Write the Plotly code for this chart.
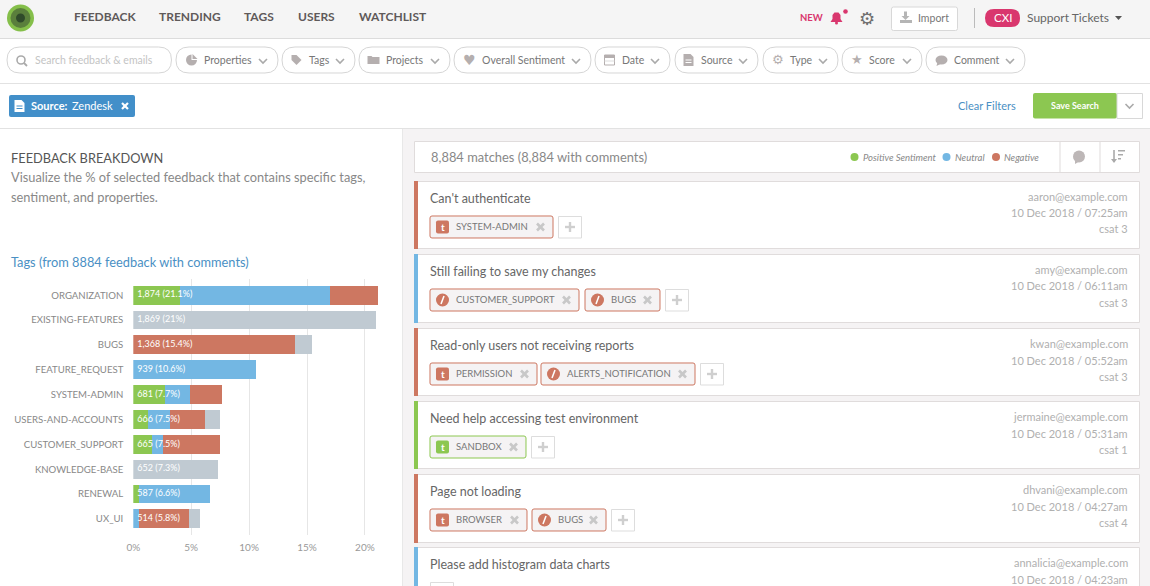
import plotly.graph_objects as go

W, H = 1150, 586

GREEN = "#8cc751"
BLUE = "#73b7e3"
RED = "#cd7761"
GREY = "#c0cad2"
PINK = "#d9376e"
ICON = "#b5afaf"
BORDER = "#e0dcdc"

# chart data
tags = ["ORGANIZATION", "EXISTING-FEATURES", "BUGS", "FEATURE_REQUEST", "SYSTEM-ADMIN",
        "USERS-AND-ACCOUNTS", "CUSTOMER_SUPPORT", "KNOWLEDGE-BASE", "RENEWAL", "UX_UI"]
positive = [4.0, 0, 0, 0, 2.7, 1.25, 1.6, 0, 0.5, 0]
neutral = [13.0, 0, 0, 10.6, 2.2, 1.9, 1.0, 0, 6.1, 0.5]
negative = [4.1, 0, 14.0, 0, 2.8, 3.05, 4.9, 0, 0, 4.3]
untagged = [0, 21.0, 1.4, 0, 0, 1.3, 0, 7.3, 0, 1.0]
bar_labels = ["1,874 (21.1%)", "1,869 (21%)", "1,368 (15.4%)", "939 (10.6%)", "681 (7.7%)",
              "666 (7.5%)", "665 (7.5%)", "652 (7.3%)", "587 (6.6%)", "514 (5.8%)"]
x_ticks = [0, 5, 10, 15, 20]

# page text
nav_items = [("FEEDBACK", 74), ("TRENDING", 159), ("TAGS", 244), ("USERS", 298), ("WATCHLIST", 359)]
# label, pill left, pill right, label left
filters = [("Properties", 176, 278, 204), ("Tags", 282, 355, 309), ("Projects", 359, 450, 386),
           ("Overall Sentiment", 454, 591, 482), ("Date", 595, 670, 622), ("Source", 675, 758, 701),
           ("Type", 763, 838, 790), ("Score", 842, 922, 869), ("Comment", 926, 1025, 954)]
# title, email, date, csat, colour, top, bottom, tags
tickets = [
    ("Can't authenticate", "aaron@example.com", "10 Dec 2018 / 07:25am", "csat 3", RED, 181, 249,
     [("t", "SYSTEM-ADMIN", 430, 553)]),
    ("Still failing to save my changes", "amy@example.com", "10 Dec 2018 / 06:11am", "csat 3", BLUE, 254, 323,
     [("z", "CUSTOMER_SUPPORT", 430, 579), ("z", "BUGS", 585, 660)]),
    ("Read-only users not receiving reports", "kwan@example.com", "10 Dec 2018 / 05:52am", "csat 3", RED, 328, 396,
     [("t", "PERMISSION", 430, 537), ("z", "ALERTS_NOTIFICATION", 541, 695)]),
    ("Need help accessing test environment", "jermaine@example.com", "10 Dec 2018 / 05:31am", "csat 1", GREEN, 401, 469,
     [("t", "SANDBOX", 430, 526)]),
    ("Page not loading", "dhvani@example.com", "10 Dec 2018 / 04:27am", "csat 4", RED, 474, 543,
     [("t", "BROWSER", 430, 527), ("z", "BUGS", 532, 606)]),
    ("Please add histogram data charts", "annalicia@example.com", "10 Dec 2018 / 04:23am", "", BLUE, 547, 600, []),
]

shapes = []
annotations = []


def pt(x, y):
    return f"{x / W:.5f},{1 - y / H:.5f}"


def rect(x0, y0, x1, y1, fill=None, line=None, width=1):
    shapes.append(dict(type="rect", xref="paper", yref="paper", layer="below",
                       x0=x0 / W, x1=x1 / W, y0=1 - y0 / H, y1=1 - y1 / H,
                       fillcolor=fill or "rgba(0,0,0,0)",
                       line=dict(color=line or "rgba(0,0,0,0)", width=width if line else 0)))


def circle(cx, cy, r, fill, line=None):
    shapes.append(dict(type="circle", xref="paper", yref="paper", layer="below",
                       x0=(cx - r) / W, x1=(cx + r) / W, y0=1 - (cy - r) / H, y1=1 - (cy + r) / H,
                       fillcolor=fill, line=dict(color=line or fill, width=1 if line else 0)))


def poly(points, fill=None, line=None, width=1, closed=True):
    d = "M" + " L".join(pt(x, y) for x, y in points) + (" Z" if closed else "")
    shapes.append(dict(type="path", xref="paper", yref="paper", layer="below", path=d,
                       fillcolor=fill or "rgba(0,0,0,0)",
                       line=dict(color=line or "rgba(0,0,0,0)", width=width if line else 0)))


def pill(x0, y0, x1, y1, r, fill, line=None):
    # rounded box
    d = (f"M{pt(x0 + r, y0)} L{pt(x1 - r, y0)} Q{pt(x1, y0)} {pt(x1, y0 + r)} "
         f"L{pt(x1, y1 - r)} Q{pt(x1, y1)} {pt(x1 - r, y1)} "
         f"L{pt(x0 + r, y1)} Q{pt(x0, y1)} {pt(x0, y1 - r)} "
         f"L{pt(x0, y0 + r)} Q{pt(x0, y0)} {pt(x0 + r, y0)} Z")
    shapes.append(dict(type="path", xref="paper", yref="paper", layer="below", path=d,
                       fillcolor=fill, line=dict(color=line or "rgba(0,0,0,0)", width=1 if line else 0)))


def text(x, y, s, size=11, color="#666", anchor="left", font="Lato", italic=False, bold=False):
    # annotations carry about a pixel of padding
    if anchor == "left":
        x -= 1
    elif anchor == "right":
        x += 1.5
    annotations.append(dict(xref="paper", yref="paper", x=x / W, y=1 - y / H, text=s,
                            showarrow=False, xanchor=anchor, yanchor="middle", borderpad=0,
                            font=dict(family=font, size=size, color=color,
                                      style="italic" if italic else "normal",
                                      weight="bold" if bold else "normal")))


def chevron(cx, cy, color="#aaaaaa"):
    poly([(cx - 4, cy - 2), (cx, cy + 2), (cx + 4, cy - 2)], line=color, width=1.6, closed=False)


def cross(cx, cy, r, color, width=2.4):
    poly([(cx - r, cy - r), (cx + r, cy + r)], line=color, width=width, closed=False)
    poly([(cx - r, cy + r), (cx + r, cy - r)], line=color, width=width, closed=False)


def plus(cx, cy, r=5, color="#cfcfcf"):
    poly([(cx - r, cy), (cx + r, cy)], line=color, width=2.4, closed=False)
    poly([(cx, cy - r), (cx, cy + r)], line=color, width=2.4, closed=False)


def doc(cx, cy, color, inner):
    poly([(cx - 5, cy - 6), (cx + 2, cy - 6), (cx + 5, cy - 3), (cx + 5, cy + 6), (cx - 5, cy + 6)], fill=color)
    rect(cx - 3, cy - 0.5, cx + 3, cy + 0.5, fill=inner)
    rect(cx - 3, cy + 2, cx + 3, cy + 3, fill=inner)


def filter_icon(label, cx, cy):
    if label == "Properties":
        circle(cx, cy, 5.5, ICON)
        poly([(cx, cy), (cx, cy - 6), (cx + 6, cy - 6), (cx + 6, cy)], fill="#ffffff")
        poly([(cx + 1, cy - 1), (cx + 1, cy - 6), (cx + 6, cy - 1)], fill=ICON)
    elif label == "Tags":
        poly([(cx - 5, cy - 5), (cx, cy - 5), (cx + 5, cy), (cx, cy + 5), (cx - 5, cy)], fill=ICON)
    elif label == "Projects":
        poly([(cx - 6, cy - 4), (cx - 2, cy - 4), (cx - 1, cy - 3), (cx + 6, cy - 3), (cx + 6, cy + 4),
              (cx - 6, cy + 4)], fill=ICON)
    elif label == "Overall Sentiment":
        text(cx, cy, "♥", size=14, color=ICON, font="DejaVu Sans", anchor="center")
    elif label == "Date":
        rect(cx - 5, cy - 5, cx + 5, cy + 5, line=ICON)
        rect(cx - 5, cy - 5, cx + 5, cy - 2, fill=ICON)
        rect(cx - 5, cy + 0.5, cx + 5, cy + 1.5, fill="#dddddd")
    elif label == "Source":
        doc(cx, cy, ICON, "#ffffff")
    elif label == "Type":
        text(cx, cy, "⚙", size=13, color=ICON, font="DejaVu Sans", anchor="center")
    elif label == "Score":
        text(cx, cy, "★", size=13, color=ICON, font="DejaVu Sans", anchor="center")
    elif label == "Comment":
        shapes.append(dict(type="circle", xref="paper", yref="paper", layer="below",
                           x0=(cx - 6) / W, x1=(cx + 6) / W, y0=1 - (cy - 4.5) / H, y1=1 - (cy + 4.5) / H,
                           fillcolor=ICON, line=dict(width=0)))
        poly([(cx - 4, cy + 2), (cx - 5, cy + 6), (cx - 1, cy + 4)], fill=ICON)


# page backgrounds
rect(0, 0, W, 38, fill="#f5f5f5")
rect(0, 38, W, 39, fill="#dcdcdc")
rect(0, 83, W, 84, fill="#e2e2e2")
rect(0, 128, W, 129, fill="#e2e2e2")
rect(403, 129, W, H, fill="#f5f3f4")
rect(402, 129, 403, H, fill="#e8e8e8")

# logo
circle(20.5, 18, 13.5, "#85bf4a")
circle(20.5, 18, 10, "#5a7f3c")
circle(20.5, 18, 4.5, "#2f4a2a")

for label, x in nav_items:
    text(x, 17, label, size=12, color="#5f5a5a", bold=True)

# right of the nav bar
text(799.5, 17.5, "NEW", size=9.5, color=PINK, bold=True)
poly([(830.5, 22), (832.5, 19), (832.5, 15), (834.5, 12.5), (838.5, 12.5), (840.5, 15), (840.5, 19), (842.5, 22)],
     fill=PINK)
circle(836.5, 23, 1.5, PINK)
circle(845.5, 11.5, 2.3, PINK)
text(867, 18, "⚙", size=18, color="#6f6f6f", font="DejaVu Sans", anchor="center")
pill(891.5, 7, 957.5, 30.5, 2, "#ffffff", "#d8d8d8")
rect(904, 11.5, 907, 16, fill="#b5b5b5")
poly([(901.5, 16), (909.5, 16), (905.5, 20)], fill="#b5b5b5")
rect(900, 20, 912, 23, fill="#b5b5b5")
text(918.5, 18, "Import", size=10.5, color="#777")
rect(974, 8, 975, 28, fill="#bbbbbb")
pill(985, 9, 1020, 27, 9, PINK)
text(1002.5, 17.5, "CXI", size=11.5, color="#ffffff", anchor="center")
text(1027, 17.5, "Support Tickets", size=12, color="#666")
poly([(1115, 16), (1122, 16), (1118.5, 20)], fill="#555555")

# filter row
pill(7, 47, 171.5, 73, 13, "#ffffff", "#d6d6d6")
shapes.append(dict(type="circle", xref="paper", yref="paper", layer="below",
                   x0=17 / W, x1=25 / W, y0=1 - 56 / H, y1=1 - 64 / H,
                   line=dict(color="#aaaaaa", width=1.6)))
poly([(24, 63), (27, 66)], line="#aaaaaa", width=1.8, closed=False)
text(35, 59.8, "Search feedback & emails", size=10.5, color="#c4c4c4")
for label, x0, x1, lx in filters:
    pill(x0, 47, x1, 73, 13, "#ffffff", "#d6d6d6")
    text(lx, 59.8, label, size=10.5, color="#777")
    chevron(x1 - 15, 61)
    filter_icon(label, lx - 12.5, 60)

# active filter row
pill(9, 95, 135, 117, 2, "#428fc9")
doc(19.5, 106, "#ffffff", "#428fc9")
text(31, 105.5, "Source:", size=11, color="#ffffff", bold=True)
text(72, 105.5, "Zendesk", size=11, color="#ffffff")
cross(125, 106, 3, "#ffffff", width=2.2)
text(958, 105.5, "Clear Filters", size=11, color="#4a90c4")
pill(1033, 93, 1117, 118.5, 2, GREEN)
text(1075, 105.5, "Save Search", size=9, color="#ffffff", anchor="center", bold=True)
rect(1117, 93.5, 1142.5, 118.5, fill="#ffffff", line="#d8d8d8")
chevron(1129.5, 106)

# left panel
text(11, 158, "FEEDBACK BREAKDOWN", size=12.8, color="#555")
text(11, 177, "Visualize the % of selected feedback that contains specific tags,", size=12.8, color="#888")
text(11, 197, "sentiment, and properties.", size=12.8, color="#888")
text(11, 262, "Tags (from 8884 feedback with comments)", size=12.8, color="#4a90c4")
text(11, 591, "Projects", size=12.8, color="#4a90c4")

# match summary row
rect(414.5, 141.5, 1139.5, 172.5, fill="#ffffff", line=BORDER)
text(431, 156.5, "8,884 matches (8,884 with comments)", size=12.9, color="#888")
circle(854.5, 157, 4, GREEN)
text(862.5, 157, "Positive Sentiment", size=9.5, color="#888", italic=True)
circle(946.5, 157, 4, BLUE)
text(955, 157, "Neutral", size=9.5, color="#888", italic=True)
circle(996, 157, 4, RED)
text(1004, 157, "Negative", size=9.5, color="#888", italic=True)
rect(1059.5, 141.5, 1060.5, 172.5, fill=BORDER)
rect(1099.5, 141.5, 1100.5, 172.5, fill=BORDER)
circle(1079, 156.5, 6, "#bdb7b7")
poly([(1075, 160), (1075, 164), (1080, 161)], fill="#bdb7b7")
poly([(1114, 150), (1114, 162)], line="#aaaaaa", width=1.6, closed=False)
poly([(1111, 159), (1114, 163), (1117, 159)], fill="#aaaaaa")
rect(1118, 150, 1125, 151.5, fill="#aaaaaa")
rect(1118, 154, 1123, 155.5, fill="#aaaaaa")
rect(1118, 158, 1121, 159.5, fill="#aaaaaa")

# ticket cards
for title, email, date, csat, colour, top, bottom, card_tags in tickets:
    rect(414.5, top + 0.5, 1139.5, bottom - 0.5, fill="#ffffff", line=BORDER)
    rect(414, top, 418, bottom, fill=colour)
    text(430, top + 17.5, title, size=12.5, color="#666")
    text(1127, top + 15.5, email, size=11, color="#b0b0b0", anchor="right")
    text(1127, top + 32, date, size=11, color="#b0b0b0", anchor="right")
    if csat:
        text(1127, top + 48, csat, size=11, color="#b0b0b0", anchor="right")
    tag_top = top + 35
    end = 430
    tint = GREEN if colour == GREEN else RED
    for kind, name, x0, x1 in card_tags:
        pill(x0, tag_top, x1, tag_top + 22, 2, "#f5f3f4", tint)
        if kind == "t":
            pill(x0 + 6, tag_top + 4.5, x0 + 19, tag_top + 17.5, 2, tint)
            text(x0 + 12.5, tag_top + 11, "t", size=10, color="#ffffff", anchor="center", bold=True)
        else:
            circle(x0 + 12.5, tag_top + 11, 6.5, tint)
            poly([(x0 + 14, tag_top + 7), (x0 + 11, tag_top + 15)], line="#ffffff", width=1.5, closed=False)
        text(x0 + 26, tag_top + 10.3, name, size=9.5, color="#777")
        cross(x1 - 12.5, tag_top + 11, 3.5, "#c8c8c8", width=2.6)
        end = x1
    if card_tags:
        rect(end + 5.5, tag_top + 0.5, end + 28.5, tag_top + 22, fill="#ffffff", line="#dddddd")
        plus(end + 17, tag_top + 11)
    else:
        rect(430.5, top + 35.5, 453.5, top + 55.5, fill="#ffffff", line="#dddddd")

fig = go.Figure()
for values, colour in [(positive, GREEN), (neutral, BLUE), (negative, RED), (untagged, GREY)]:
    fig.add_trace(go.Bar(y=tags, x=values, orientation="h", marker=dict(color=colour, line=dict(width=0)),
                         showlegend=False, hoverinfo="skip"))
fig.add_trace(go.Scatter(y=tags, x=[0.35] * len(tags), mode="text", text=bar_labels,
                         textposition="middle right", showlegend=False, hoverinfo="skip",
                         textfont=dict(family="Lato", size=9, color="#ffffff")))

fig.update_layout(
    width=W, height=H, autosize=False,
    margin=dict(l=0, r=0, t=0, b=0),
    paper_bgcolor="#ffffff", plot_bgcolor="rgba(0,0,0,0)",
    barmode="stack", bargap=0.246,
    shapes=shapes, annotations=annotations,
    xaxis=dict(domain=[133.3 / W, 385 / W], range=[0, (385 - 133.3) / 11.58], tickvals=x_ticks,
               ticktext=[f"{t}%" for t in x_ticks], showgrid=True, gridcolor="#e6e6e6", gridwidth=1,
               zeroline=False, showline=False, ticks="", anchor="y", automargin=False,
               ticklabelstandoff=5, tickfont=dict(family="Lato", size=10, color="#999")),
    yaxis=dict(domain=[1 - 535 / H, 1 - 279 / H], autorange=False, range=[9.65, -0.65],
               categoryorder="array", categoryarray=tags, automargin=False,
               showgrid=False, zeroline=False, showline=False, ticks="", ticklabelstandoff=9,
               tickfont=dict(family="Lato", size=9.6, color="#888")),
)

# the page has a default body margin, take it off so the figure sits at 0,0
fig.write_html("out.html", config={"displayModeBar": False},
               post_script="document.body.style.margin='0';document.body.style.overflow='hidden';")
